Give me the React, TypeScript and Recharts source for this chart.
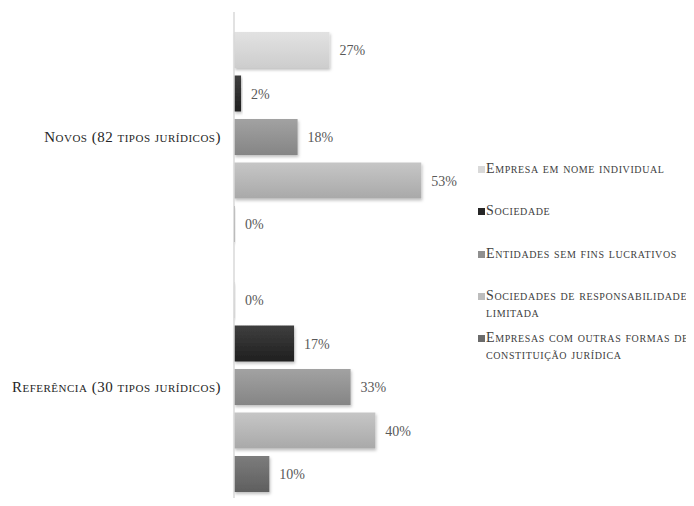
import React from "react";
import { BarChart, Bar, XAxis, YAxis, LabelList } from "recharts";

const categories = ["Novos (82 tipos jurídicos)", "Referência (30 tipos jurídicos)"];
const seriesNames = [
  "Empresa em nome individual",
  "Sociedade",
  "Entidades sem fins lucrativos",
  "Sociedades de responsabilidade limitada",
  "Empresas com outras formas de constituição jurídica",
];
const empresaIndividual = [27, 0];
const sociedade = [2, 17];
const entidades = [18, 33];
const sociedadesResp = [53, 40];
const outrasFormas = [0, 10];

const seriesValues = [empresaIndividual, sociedade, entidades, sociedadesResp, outrasFormas];
const keys = ["s0", "s1", "s2", "s3", "s4"];
const gradTop = ["#e2e2e2", "#3f3f3f", "#a2a2a2", "#c6c6c6", "#7c7c7c"];
const gradBottom = ["#cdcdcd", "#1f1f1f", "#858585", "#a9a9a9", "#5f5f5f"];
const legendColors = ["#d9d9d9", "#262626", "#8f8f8f", "#bdbdbd", "#6b6b6b"];

const data = categories.map((c, i) => {
  const row: any = { name: c };
  keys.forEach((k, j) => (row[k] = seriesValues[j][i]));
  return row;
});

const FONT = "'Liberation Serif', serif";

const CatTick = (props: any) => {
  const { x, y, payload } = props;
  return (
    <text
      x={x - 5}
      y={y}
      dy={5}
      textAnchor="end"
      fill="#262626"
      style={{ fontFamily: FONT, fontSize: 15, fontVariant: "small-caps", letterSpacing: 0.5 }}
    >
      {payload.value}
    </text>
  );
};

const ValueLabel = (props: any) => {
  const { x, y, width, height, value } = props;
  return (
    <text
      x={Number(x) + Number(width || 0) + 10}
      y={Number(y) + Number(height) / 2}
      dy={5}
      textAnchor="start"
      fill="#595959"
      style={{ fontFamily: FONT, fontSize: 14 }}
    >
      {`${value}%`}
    </text>
  );
};

export default function App() {
  return (
    <div style={{ position: "relative", width: 686, height: 490, overflow: "hidden" }}>
      <BarChart
        width={686}
        height={504}
        data={data}
        layout="vertical"
        margin={{ top: 4, right: 248, bottom: 0, left: 0 }}
        barCategoryGap={20}
        barGap={7.5}
      >
        <defs>
          {keys.map((k, i) => (
            <linearGradient key={k} id={"g" + i} x1="0" y1="0" x2="0" y2="1">
              <stop offset="0%" stopColor={gradTop[i]} />
              <stop offset="100%" stopColor={gradBottom[i]} />
            </linearGradient>
          ))}
          <filter id="shadow" x="-10%" y="-20%" width="130%" height="160%">
            <feDropShadow dx="1" dy="2" stdDeviation="1.5" floodColor="#000" floodOpacity="0.25" />
          </filter>
        </defs>
        <XAxis type="number" domain={[0, 60]} hide />
        <YAxis
          type="category"
          dataKey="name"
          width={226}
          axisLine={{ stroke: "#d9d9d9", strokeWidth: 1.5 }}
          tickLine={false}
          tick={<CatTick />}
        />
        {keys.map((k, i) => (
          <Bar
            key={k}
            dataKey={k}
            name={seriesNames[i]}
            fill={`url(#g${i})`}
            isAnimationActive={false}
            minPointSize={1}
            style={{ filter: "url(#shadow)" }}
          >
            <LabelList dataKey={k} content={<ValueLabel />} />
          </Bar>
        ))}
      </BarChart>
      <div
        style={{
          position: "absolute",
          left: 470,
          top: 152,
          width: 216,
          fontFamily: FONT,
          fontSize: 14,
          fontVariant: "small-caps",
          letterSpacing: 0.6,
          color: "#404040",
          lineHeight: "17px",
        }}
      >
        {seriesNames.map((n, i) => (
          <div key={n} style={{ display: "flex", alignItems: "flex-start", height: 42.3 }}>
            <span
              style={{
                display: "inline-block",
                width: 7,
                height: 7,
                marginTop: 6,
                marginRight: 1,
                flex: "0 0 auto",
                background: legendColors[i],
              }}
            />
            <span>{n}</span>
          </div>
        ))}
      </div>
    </div>
  );
}
